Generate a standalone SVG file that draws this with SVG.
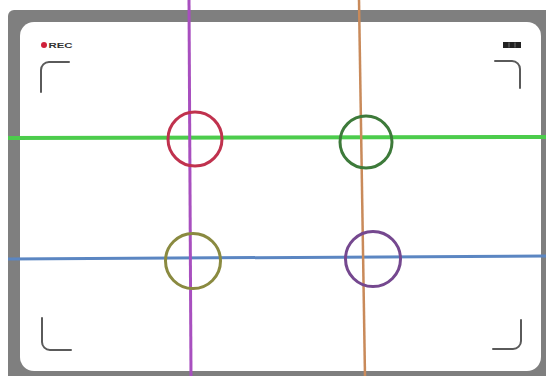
<svg xmlns="http://www.w3.org/2000/svg" width="546" height="376" viewBox="0 0 546 376">
  <style>
    .corner { fill: none; stroke: #5a5a5a; stroke-width: 2; stroke-linecap: round; }
    .ring { fill: none; stroke-width: 3; }
    .rec { font-family: "Liberation Sans", Arial, sans-serif; font-weight: bold; font-size: 8px; fill: #333; }
  </style>
  <rect x="0" y="0" width="546" height="376" fill="#ffffff"/>
  <g id="frame">
    <rect x="8" y="10" width="560" height="390" rx="6" fill="#7f7f7f"/>
    <rect x="20" y="22" width="521" height="349" rx="14" fill="#ffffff"/>
  </g>
  <g id="viewfinder">
    <path class="corner" d="M41 92 V70 A8 8 0 0 1 49 62 H69"/>
    <path class="corner" d="M495 61 H512 A8 8 0 0 1 520 69 V88"/>
    <path class="corner" d="M42 318 V342 A8 8 0 0 0 50 350 H71"/>
    <path class="corner" d="M521 320 V341 A8 8 0 0 1 513 349 H493"/>
  </g>
  <g id="rec-indicator">
    <circle cx="44" cy="45" r="3" fill="#d0203a"/>
    <text class="rec" x="48.5" y="48" textLength="24" lengthAdjust="spacingAndGlyphs">REC</text>
  </g>
  <g id="battery">
    <rect x="503" y="42" width="18" height="6" fill="#222"/>
    <line x1="509" y1="42.5" x2="509" y2="47.5" stroke="#888" stroke-width="0.8"/>
    <line x1="515" y1="42.5" x2="515" y2="47.5" stroke="#888" stroke-width="0.8"/>
  </g>
  <g id="connectors">
    <line x1="8" y1="138" x2="546" y2="137" stroke="#4ccc4c" stroke-width="4"/>
    <line x1="8" y1="259" x2="546" y2="256" stroke="#5b86c2" stroke-width="3"/>
    <line x1="189" y1="0" x2="191" y2="376" stroke="#a84fbf" stroke-width="3"/>
    <line x1="359" y1="0" x2="365" y2="376" stroke="#c98a5a" stroke-width="2.5"/>
  </g>
  <g id="circle-red">
    <circle class="ring" cx="195" cy="139" r="27" stroke="#c0324e"/>
  </g>
  <g id="circle-green">
    <circle class="ring" cx="366" cy="142" r="26" stroke="#3d7a3a"/>
  </g>
  <g id="circle-olive">
    <circle class="ring" cx="193" cy="261" r="27.5" stroke="#8a8a40"/>
  </g>
  <g id="circle-purple">
    <circle class="ring" cx="373" cy="259" r="27.5" stroke="#75488f"/>
  </g>
</svg>
